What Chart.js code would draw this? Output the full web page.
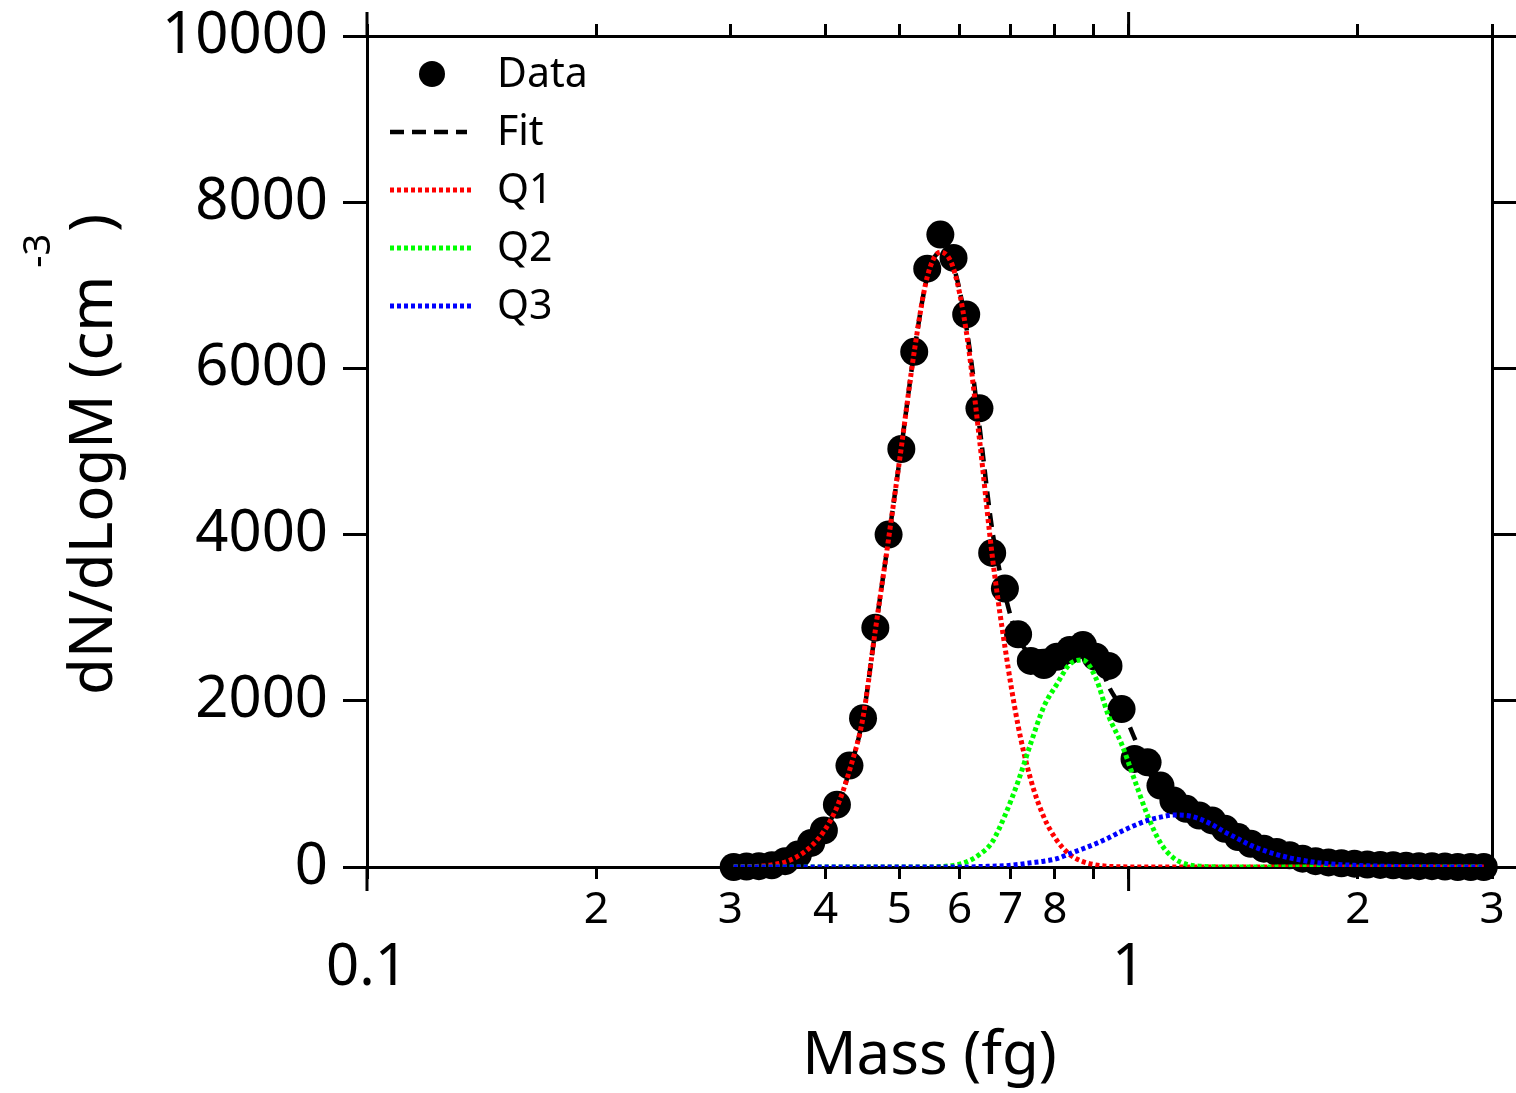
<!DOCTYPE html>
<html>
<head>
<meta charset="utf-8">
<title>Mass distribution</title>
<script src="https://cdn.jsdelivr.net/npm/chart.js@4.4.1/dist/chart.umd.min.js"></script>
<style>
body { margin: 0; background: #fff; }
</style>
</head>
<body>
<canvas id="myChart" width="1516" height="1093"></canvas>
<script>
var mass_fg = [0.303, 0.315, 0.327, 0.340, 0.354, 0.368, 0.383, 0.398, 0.414, 0.430,
	0.448, 0.465, 0.484, 0.503, 0.523, 0.544, 0.566, 0.589, 0.612, 0.637,
	0.662, 0.688, 0.716, 0.744, 0.774, 0.805, 0.837, 0.871, 0.905, 0.941,
	0.979, 1.018, 1.059, 1.101, 1.145, 1.190, 1.238, 1.287, 1.338, 1.392,
	1.447, 1.505, 1.565, 1.627, 1.692, 1.760, 1.830, 1.903, 1.979, 2.058,
	2.140, 2.225, 2.314, 2.406, 2.502, 2.602, 2.705, 2.813, 2.926];

var data_counts = [0, 5, 10, 20, 70, 150, 290, 440, 750, 1220,
	1790, 2880, 4000, 5030, 6200, 7200, 7610, 7330, 6650, 5520,
	3780, 3350, 2800, 2480, 2430, 2530, 2610, 2670, 2530, 2420,
	1900, 1300, 1260, 980, 800, 700, 620, 560, 460, 360,
	280, 220, 180, 140, 100, 70, 55, 45, 40, 30,
	25, 20, 15, 10, 10, 5, 0, 0, 0];

var fit_counts = [0, 3, 10, 25, 60, 130, 250, 430, 720, 1160,
	1800, 2850, 3950, 5050, 6200, 7100, 7400, 7220, 6510, 5305,
	4060, 3285, 2760, 2590, 2600, 2620, 2750, 2775, 2585, 2178,
	1912, 1550, 1180, 890, 735, 655, 590, 513, 420, 340,
	260, 200, 150, 110, 80, 55, 40, 28, 20, 14,
	10, 6, 4, 3, 2, 1, 1, 0, 0];

var q1_counts = [1, 3, 10, 25, 60, 130, 250, 430, 720, 1160,
	1800, 2850, 3950, 5050, 6200, 7100, 7400, 7200, 6450, 5150,
	3750, 2650, 1700, 1050, 600, 320, 150, 65, 25, 8,
	2, 0, 0, 0, 0, 0, 0, 0, 0, 0,
	0, 0, 0, 0, 0, 0, 0, 0, 0, 0,
	0, 0, 0, 0, 0, 0, 0, 0, 0];

var q2_counts = [0, 0, 0, 0, 0, 0, 0, 0, 0, 0,
	0, 0, 0, 0, 0, 0, 5, 20, 60, 150,
	300, 620, 1030, 1490, 1930, 2200, 2440, 2490, 2280, 1820,
	1480, 1050, 620, 290, 110, 35, 10, 3, 0, 0,
	0, 0, 0, 0, 0, 0, 0, 0, 0, 0,
	0, 0, 0, 0, 0, 0, 0, 0, 0];

var q3_counts = [0, 0, 0, 0, 0, 0, 0, 0, 0, 0,
	0, 0, 0, 0, 0, 0, 0, 0, 0, 5,
	10, 15, 30, 50, 70, 100, 160, 220, 280, 350,
	430, 500, 560, 600, 625, 620, 580, 510, 420, 340,
	260, 200, 150, 110, 80, 55, 40, 28, 20, 14,
	10, 6, 4, 3, 2, 1, 1, 0, 0];

var x_tick_values = [0.1, 0.2, 0.3, 0.4, 0.5, 0.6, 0.7, 0.8, 0.9, 1, 2, 3];
var x_tick_labels = ['0.1', '2', '3', '4', '5', '6', '7', '8', '', '1', '2', '3'];
var x_major_values = [0.1, 1];
var y_tick_values = [0, 2000, 4000, 6000, 8000, 10000];

var font_name = "'Noto Sans', sans-serif";

Chart.defaults.font.family = font_name;
Chart.defaults.color = '#000';

function makePoints( values )
{
	var pts = [];
	for( var i=0; i<mass_fg.length; i++ )
	{
		pts.push({ x: mass_fg[i], y: values[i] });
	}
	return pts;
}

function setXTicks( scale )
{
	scale.ticks = x_tick_values.map(function(v){ return { value: v }; });
}

function setYTicks( scale )
{
	scale.ticks = y_tick_values.map(function(v){ return { value: v }; });
}

function isMajor( v )
{
	return x_major_values.indexOf(v) >= 0;
}

// longer marks for the decades, on top and bottom axes
var majorTicks = {
	id: 'majorTicks',
	afterDraw: function(chart){
		var ctx = chart.ctx;
		ctx.save();
		ctx.strokeStyle = '#000';
		ctx.lineWidth = 3;
		var bottom = chart.scales.x;
		for( var i=0; i<x_major_values.length; i++ )
		{
			var px = bottom.getPixelForValue(x_major_values[i]);
			ctx.beginPath();
			ctx.moveTo(px, chart.chartArea.bottom);
			ctx.lineTo(px, chart.chartArea.bottom + 24);
			ctx.moveTo(px, chart.chartArea.top);
			ctx.lineTo(px, chart.chartArea.top - 24);
			ctx.stroke();
		}
		ctx.restore();
	}
};

// y title with the superscript
var yTitle = {
	id: 'yTitle',
	afterDraw: function(chart){
		var ctx = chart.ctx;
		ctx.save();
		ctx.translate(112, 695);
		ctx.rotate(-Math.PI / 2);
		ctx.fillStyle = '#000';
		ctx.textBaseline = 'alphabetic';
		ctx.textAlign = 'left';
		var main = 'dN/dLogM (cm';
		ctx.font = '60px ' + font_name;
		ctx.fillText(main, 0, 0);
		var w = ctx.measureText(main).width;
		ctx.font = '38px ' + font_name;
		ctx.fillText('-3', w + 8, -62);
		var w2 = ctx.measureText('-3').width;
		ctx.font = '60px ' + font_name;
		ctx.fillText(')', w + 8 + w2 + 2, 0);
		ctx.restore();
	}
};

var boxLegend = {
	id: 'boxLegend',
	afterDraw: function(chart){
		var ctx = chart.ctx;
		var sets = chart.data.datasets;
		for( var i=0; i<sets.length; i++ )
		{
			var ds = sets[i];
			var y = 74 + 58 * i;
			ctx.save();
			if( ds.showLine === false )
			{
				ctx.fillStyle = ds.backgroundColor;
				ctx.beginPath();
				ctx.arc(432, y, 13, 0, Math.PI * 2);
				ctx.fill();
			}
			else
			{
				ctx.strokeStyle = ds.borderColor;
				ctx.lineWidth = ds.borderWidth;
				ctx.setLineDash(ds.borderDash);
				ctx.beginPath();
				ctx.moveTo(390, y);
				ctx.lineTo(ds.label == 'Fit' ? 467 : 473, y);
				ctx.stroke();
			}
			ctx.setLineDash([]);
			ctx.fillStyle = '#000';
			ctx.font = '41px ' + font_name;
			ctx.textBaseline = 'middle';
			ctx.fillText(ds.label, 497, y + 1);
			ctx.restore();
		}
	}
};

function fixYBox( scale, w )
{
	scale.width = w;
	scale.paddingTop = 0;
	scale.paddingBottom = 0;
}

var ctx = document.getElementById('myChart').getContext('2d');

var myChart = new Chart(ctx, {
	type: 'line',
	data: {
		datasets: [
			{
				label: 'Data',
				data: makePoints(data_counts),
				showLine: false,
				pointRadius: 14,
				pointBackgroundColor: '#000',
				backgroundColor: '#000',
				pointBorderWidth: 0,
				clip: false,
				order: 5
			},
			{
				label: 'Fit',
				data: makePoints(fit_counts),
				borderColor: '#000',
				borderWidth: 4.5,
				borderDash: [14, 8],
				pointRadius: 0,
				cubicInterpolationMode: 'monotone',
				order: 4
			},
			{
				label: 'Q1',
				data: makePoints(q1_counts),
				borderColor: '#ff0000',
				borderWidth: 5,
				borderDash: [4, 3],
				pointRadius: 0,
				cubicInterpolationMode: 'monotone',
				order: 3
			},
			{
				label: 'Q2',
				data: makePoints(q2_counts),
				borderColor: '#00ff00',
				borderWidth: 5,
				borderDash: [4, 3],
				pointRadius: 0,
				cubicInterpolationMode: 'monotone',
				order: 2
			},
			{
				label: 'Q3',
				data: makePoints(q3_counts),
				borderColor: '#0000ff',
				borderWidth: 5,
				borderDash: [4, 3],
				pointRadius: 0,
				cubicInterpolationMode: 'monotone',
				order: 1
			}
		]
	},
	options: {
		responsive: false,
		animation: false,
		events: [],
		layout: { padding: 0 },
		plugins: {
			legend: { display: false },
			tooltip: { enabled: false }
		},
		scales: {
			x: {
				type: 'logarithmic',
				position: 'bottom',
				min: 0.1,
				max: 3,
				afterBuildTicks: setXTicks,
				afterFit: function(scale){ scale.height = 226; },
				border: { display: true, color: '#000', width: 3 },
				grid: { drawOnChartArea: false, color: '#000', tickColor: '#000', tickWidth: 3, tickLength: 12 },
				ticks: {
					autoSkip: false,
					maxRotation: 0,
					padding: 5,
					font: function(c){
						if( c.tick && isMajor(c.tick.value) )
							return { size: 58, lineHeight: 0.97 };
						return { size: 44, lineHeight: 1.2 };
					},
					callback: function(value, index){
						var lab = x_tick_labels[index];
						if( isMajor(value) )
							return ['', lab];
						return lab;
					}
				},
				title: {
					display: true,
					text: 'Mass (fg)',
					font: { size: 60, lineHeight: 1.2 },
					padding: { top: 0, bottom: 0 }
				}
			},
			x2: {
				type: 'logarithmic',
				position: 'top',
				min: 0.1,
				max: 3,
				afterBuildTicks: setXTicks,
				afterFit: function(scale){ scale.height = 36; },
				border: { display: true, color: '#000', width: 3 },
				grid: { drawOnChartArea: false, color: '#000', tickColor: '#000', tickWidth: 3, tickLength: 12 },
				ticks: { display: false, autoSkip: false }
			},
			y: {
				type: 'linear',
				position: 'left',
				min: 0,
				max: 10000,
				afterBuildTicks: setYTicks,
				afterFit: function(scale){ fixYBox(scale, 367); },
				border: { display: true, color: '#000', width: 3 },
				grid: { drawOnChartArea: false, color: '#000', tickColor: '#000', tickWidth: 3, tickLength: 24 },
				ticks: {
					font: { size: 58 },
					padding: 15,
					callback: function(value){ return String(value); }
				}
			},
			y2: {
				type: 'linear',
				position: 'right',
				min: 0,
				max: 10000,
				afterBuildTicks: setYTicks,
				afterFit: function(scale){ fixYBox(scale, 24); },
				border: { display: true, color: '#000', width: 3 },
				grid: { drawOnChartArea: false, color: '#000', tickColor: '#000', tickWidth: 3, tickLength: 24 },
				ticks: { display: false }
			}
		}
	},
	plugins: [majorTicks, yTitle, boxLegend]
});
</script>
</body>
</html>
